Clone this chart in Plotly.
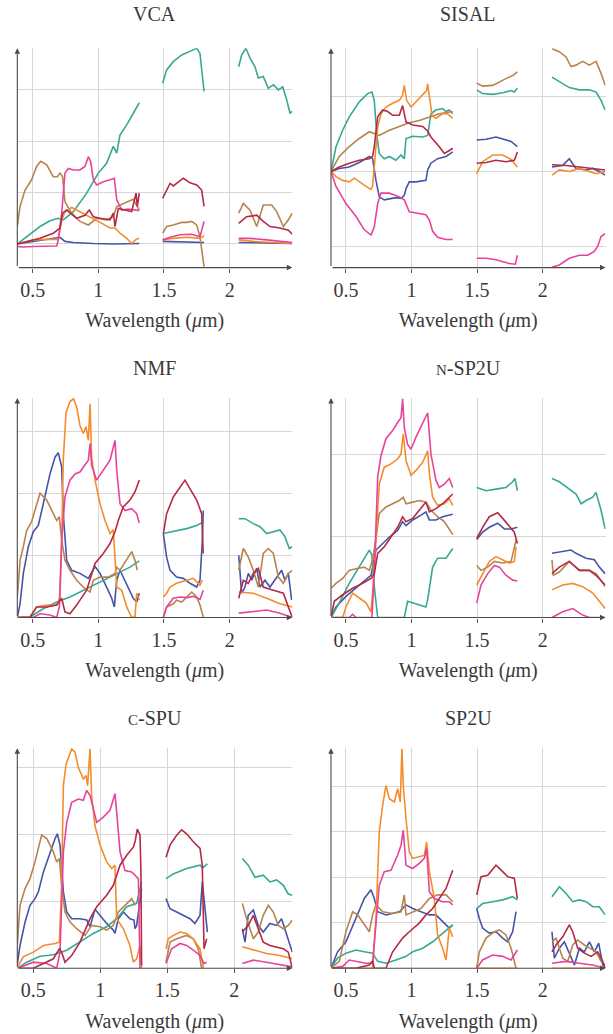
import plotly.graph_objects as go

FONT = "Liberation Serif, Times New Roman, DejaVu Serif, serif"
COLORS = {"teal": "#36A893", "orange": "#F58C2C", "pink": "#E64499", "red": "#B42A44",
          "blue": "#4654A8", "brown": "#B8834E"}

# ---------------- VCA ----------------
VCA_TEAL_WL = [0.383, 0.454, 0.556, 0.632, 0.695, 0.733, 0.810, 0.911, 0.962, 1.000, 1.063, 1.114, 1.140, 1.165, 1.216, 1.266, 1.312, None,
               1.490, 1.520, 1.571, 1.635, 1.698, 1.749, 1.774, 1.805, None,
               2.069, 2.091, 2.124, 2.155, 2.193, 2.218, 2.256, 2.294, 2.333, 2.371, 2.404, 2.434, 2.459, 2.477]
VCA_TEAL_R = [0, 0.14, 0.34, 0.45, 0.50, 0.47, 0.63, 0.99, 1.21, 1.38, 1.57, 1.90, 1.77, 2.12, 2.32, 2.55, 2.75, None,
              3.13, 3.39, 3.55, 3.68, 3.75, 3.81, 3.71, 2.97, None,
              3.45, 3.68, 3.81, 3.62, 3.45, 3.23, 3.26, 3.03, 3.10, 3.00, 3.06, 2.81, 2.55, 2.58]
VCA_BROWN_WL = [0.383, 0.404, 0.442, 0.492, 0.530, 0.561, 0.607, 0.657, 0.688, 0.708, 0.728, 0.746, 0.797, 0.860, 0.924, 0.987, 1.063, 1.114, 1.140, 1.190, 1.266, 1.312, None,
                1.490, 1.520, 1.571, 1.635, 1.673, 1.711, 1.749, 1.774, 1.805, None,
                2.069, 2.104, 2.155, 2.206, 2.256, 2.320, 2.358, 2.409, 2.447, 2.477]
VCA_BROWN_R = [0.34, 0.73, 1.05, 1.25, 1.51, 1.61, 1.54, 1.31, 1.31, 1.38, 1.31, 0.82, 0.60, 0.44, 0.37, 0.50, 0.47, 0.53, 0.73, 0.79, 0.87, 0.66, None,
               0.21, 0.34, 0.37, 0.42, 0.42, 0.44, 0.37, 0.14, -0.44, None,
               0.60, 0.79, 0.66, 0.34, 0.76, 0.76, 0.63, 0.34, 0.47, 0.60]
VCA_PINK_WL = [0.383, 0.429, 0.505, 0.607, 0.683, 0.695, 0.721, 0.746, 0.772, 0.810, 0.860, 0.898, 0.924, 0.942, 0.962, 0.987, 1.038, 1.089, 1.122, 1.140, 1.178, 1.228, 1.266, 1.312, None,
               1.490, 1.546, 1.622, 1.711, 1.774, 1.805, None,
               2.069, 2.155, 2.282, 2.383, 2.477]
VCA_PINK_R = [-0.05, -0.06, -0.05, -0.04, -0.04, 0.08, 0.60, 1.38, 1.47, 1.44, 1.44, 1.51, 1.70, 1.60, 1.25, 1.15, 1.21, 1.25, 1.28, 0.86, 0.66, 0.68, 0.66, 0.65, None,
              0.08, 0.13, 0.18, 0.19, 0.14, 0.44, None,
              0.11, 0.11, 0.08, 0.06, 0.03]
VCA_RED_WL = [0.383, 0.454, 0.556, 0.657, 0.708, 0.728, 0.759, 0.835, 0.898, 0.931, 0.962, 1.013, 1.089, 1.114, 1.127, 1.152, 1.203, 1.254, 1.287, 1.297, 1.312, None,
              1.490, 1.520, 1.546, 1.571, 1.647, 1.698, 1.749, 1.787, 1.805, None,
              2.069, 2.129, 2.206, 2.256, 2.307, 2.383, 2.447, 2.477]
VCA_RED_R = [0, 0.05, 0.11, 0.21, 0.31, 0.60, 0.66, 0.50, 0.56, 0.66, 0.53, 0.50, 0.47, 0.60, 0.34, 0.69, 0.66, 0.63, 0.99, 0.73, 0.99, None,
             0.89, 1.05, 1.18, 1.13, 1.28, 1.19, 1.15, 1.05, 0.73, None,
             0.40, 0.53, 0.56, 0.44, 0.34, 0.31, 0.27, 0.19]
VCA_ORANGE_WL = [0.383, 0.505, 0.632, 0.695, 0.721, 0.746, 0.797, 0.860, 0.962, 1.013, 1.089, 1.127, 1.165, 1.216, 1.254, 1.287, 1.312, None,
                 1.490, 1.571, 1.673, 1.774, 1.805, None,
                 2.069, 2.180, 2.333, 2.477]
VCA_ORANGE_R = [0, 0.08, 0.09, 0.09, 0.47, 0.63, 0.71, 0.63, 0.50, 0.42, 0.31, 0.31, 0.21, 0.11, 0.01, 0.09, 0.11, None,
                0.08, 0.11, 0.13, 0.11, 0.16, None,
                0.08, 0.05, 0.03, 0.01]
VCA_BLUE_WL = [0.383, 0.505, 0.632, 0.708, 0.746, 0.810, 0.962, 1.114, 1.312, None,
               1.490, 1.647, 1.805, None,
               2.069, 2.282, 2.477]
VCA_BLUE_R = [0, 0.05, 0.09, 0.13, 0.05, 0.03, 0.01, 0, 0.01, None,
              0.05, 0.04, 0.03, None,
              0.03, 0.02, 0.01]

# ---------------- SISAL ----------------
SISAL_TEAL_WL = [0.386, 0.424, 0.475, 0.525, 0.602, 0.665, 0.698, 0.716, 0.734, 0.754, 0.792, 0.831, 0.881, 0.920, 0.945, 0.958, 1.009, 1.085, 1.123, 1.148, 1.186, 1.237, 1.263, 1.288, 1.314, None,
                 1.497, 1.542, 1.619, 1.695, 1.759, 1.784, 1.807, None,
                 2.071, 2.127, 2.203, 2.280, 2.356, 2.407, 2.445, 2.476]
SISAL_TEAL_R = [0, 0.33, 0.55, 0.73, 0.93, 1.04, 1.06, 0.95, 0.51, 0.24, 0.17, 0.20, 0.15, 0.22, 0.17, 0.44, 0.47, 0.46, 0.48, 0.77, 0.82, 0.84, 0.80, 0.82, 0.77, None,
                1.09, 1.04, 1.03, 1.05, 1.08, 1.06, 1.11, None,
                1.26, 1.20, 1.12, 1.09, 1.09, 1.06, 0.95, 0.82]
SISAL_BROWN_WL = [0.386, 0.449, 0.525, 0.602, 0.678, 0.716, 0.754, 0.831, 0.907, 0.983, 1.059, 1.136, 1.212, 1.314, None,
                  1.497, 1.542, 1.619, 1.670, 1.720, 1.771, 1.807, None,
                  2.071, 2.127, 2.178, 2.216, 2.254, 2.305, 2.356, 2.407, 2.445, 2.476]
SISAL_BROWN_R = [0, 0.20, 0.33, 0.44, 0.53, 0.51, 0.48, 0.55, 0.60, 0.65, 0.68, 0.73, 0.77, 0.80, None,
                 1.18, 1.14, 1.15, 1.20, 1.24, 1.28, 1.33, None,
                 1.64, 1.60, 1.53, 1.40, 1.42, 1.47, 1.42, 1.47, 1.31, 1.15]
SISAL_ORANGE_WL = [0.386, 0.424, 0.475, 0.525, 0.564, 0.602, 0.653, 0.691, 0.703, 0.716, 0.742, 0.767, 0.805, 0.856, 0.907, 0.932, 0.945, 0.963, 0.996, 1.034, 1.085, 1.115, 1.123, 1.141, 1.156, 1.186, 1.237, 1.275, 1.314, None,
                   1.497, 1.542, 1.619, 1.695, 1.759, 1.807, None,
                   2.071, 2.127, 2.203, 2.280, 2.356, 2.407, 2.476]
SISAL_ORANGE_R = [0, -0.07, -0.12, -0.14, -0.09, -0.14, -0.20, -0.24, -0.20, 0.06, 0.60, 0.77, 0.86, 0.91, 0.95, 1.02, 1.15, 0.95, 0.86, 0.93, 1.02, 1.08, 1.17, 0.95, 0.75, 0.71, 0.77, 0.77, 0.71, None,
                  -0.03, 0.13, 0.22, 0.22, 0.16, 0.06, None,
                  -0.05, 0.02, 0, 0.04, 0, -0.03, 0]
SISAL_RED_WL = [0.386, 0.449, 0.525, 0.602, 0.678, 0.703, 0.716, 0.742, 0.780, 0.818, 0.856, 0.907, 0.932, 0.945, 0.958, 1.009, 1.085, 1.123, 1.148, 1.212, 1.250, 1.288, 1.314, None,
                1.497, 1.568, 1.644, 1.720, 1.784, 1.807, None,
                2.071, 2.178, 2.280, 2.382, 2.476]
SISAL_RED_R = [0, 0.06, 0.11, 0.15, 0.17, 0.20, 0.33, 0.73, 0.82, 0.80, 0.75, 0.75, 0.88, 0.77, 0.66, 0.62, 0.60, 0.54, 0.46, 0.33, 0.24, 0.28, 0.31, None,
               0.11, 0.12, 0.15, 0.13, 0.15, 0.26, None,
               0.09, 0.08, 0.06, 0.04, 0.02]
SISAL_BLUE_WL = [0.386, 0.449, 0.525, 0.602, 0.678, 0.703, 0.729, 0.754, 0.792, 0.831, 0.881, 0.920, 0.945, 0.958, 0.983, 1.034, 1.110, 1.123, 1.148, 1.199, 1.263, 1.314, None,
                 1.497, 1.568, 1.644, 1.695, 1.759, 1.807, None,
                 2.071, 2.153, 2.203, 2.254, 2.331, 2.382, 2.432, 2.476]
SISAL_BLUE_R = [0, 0.04, 0.06, 0.12, 0.20, 0.17, -0.12, -0.34, -0.38, -0.37, -0.35, -0.36, -0.32, -0.23, -0.14, -0.14, -0.12, 0.02, 0.11, 0.17, 0.20, 0.26, None,
                0.42, 0.43, 0.46, 0.43, 0.40, 0.33, None,
                0.06, 0.08, 0.17, 0.04, 0.02, 0.04, 0, -0.05]
SISAL_PINK_WL = [0.386, 0.424, 0.500, 0.576, 0.640, 0.691, 0.716, 0.742, 0.767, 0.831, 0.907, 0.945, 0.983, 1.059, 1.110, 1.136, 1.161, 1.199, 1.263, 1.314, None,
                 1.497, 1.568, 1.644, 1.746, 1.792, 1.807, None,
                 2.071, 2.127, 2.203, 2.280, 2.343, 2.394, 2.420, 2.445, 2.476]
SISAL_PINK_R = [0, -0.20, -0.43, -0.60, -0.78, -0.85, -0.74, -0.43, -0.29, -0.29, -0.34, -0.38, -0.54, -0.56, -0.58, -0.65, -0.80, -0.88, -0.91, -0.91, None,
                -1.16, -1.16, -1.18, -1.23, -1.24, -1.12, None,
                -1.28, -1.25, -1.16, -1.12, -1.12, -1.07, -1.00, -0.87, -0.83]

# ---------------- NMF ----------------
NMF_BLUE_WL = [0.383, 0.404, 0.429, 0.467, 0.505, 0.543, 0.581, 0.632, 0.670, 0.695, 0.721, 0.733, 0.759, 0.797, 0.860, 0.924, 0.975, 1.013, 1.063, 1.102, 1.122, 1.140, 1.165, 1.228, 1.266, 1.292, 1.312, None,
               1.495, 1.520, 1.546, 1.596, 1.647, 1.698, 1.749, 1.774, 1.792, 1.799, None,
               2.069, 2.091, 2.117, 2.142, 2.168, 2.206, 2.231, 2.269, 2.307, 2.358, 2.396, 2.421, 2.447, 2.472]
NMF_BLUE_R = [0, 0.22, 0.71, 1.14, 1.38, 1.48, 1.83, 2.31, 2.58, 2.65, 2.42, 1.67, 0.92, 0.76, 0.71, 0.63, 0.82, 0.71, 0.49, 0.31, 0.17, 0.60, 0.76, 0.49, 0.31, 0.25, 0.39, None,
              1.35, 0.97, 0.76, 0.65, 0.63, 0.55, 0.49, 0.60, 1.24, 1.72, None,
              1.00, 0.39, 0.49, 0.71, 0.60, 0.79, 0.49, 0.60, 0.49, 0.65, 0.76, 0.60, 0.71, 0.28]
NMF_BROWN_WL = [0.383, 0.404, 0.429, 0.454, 0.492, 0.530, 0.556, 0.607, 0.657, 0.683, 0.703, 0.721, 0.746, 0.784, 0.835, 0.886, 0.937, 0.962, 1.013, 1.076, 1.127, 1.140, 1.165, 1.203, 1.254, 1.279, 1.297, None,
                1.495, 1.520, 1.571, 1.596, 1.635, 1.673, 1.711, 1.749, 1.774, 1.799, None,
                2.069, 2.104, 2.142, 2.180, 2.218, 2.256, 2.294, 2.333, 2.371, 2.409, 2.447, 2.477]
NMF_BROWN_R = [0.33, 0.92, 1.14, 1.40, 1.54, 1.83, 2.00, 1.89, 1.67, 1.56, 1.62, 1.24, 0.92, 0.76, 0.60, 0.49, 0.41, 0.60, 0.65, 0.65, 0.71, 0.81, 0.76, 0.89, 1.06, 0.92, 0.76, None,
               0.01, 0.17, 0.22, 0.28, 0.25, 0.33, 0.41, 0.33, 0.20, 0.01, None,
               0.76, 1.11, 0.97, 0.76, 0.49, 1.03, 1.11, 1.03, 0.65, 0.55, 0.71, 0.76]
NMF_TEAL_WL = [0.383, 0.480, 0.581, 0.683, 0.784, 0.886, 0.987, 1.089, 1.165, 1.241, 1.312, None,
               1.495, 1.571, 1.673, 1.749, 1.805, None,
               2.069, 2.117, 2.180, 2.231, 2.282, 2.333, 2.383, 2.421, 2.454, 2.477]
NMF_TEAL_R = [0, 0.01, 0.14, 0.25, 0.33, 0.44, 0.55, 0.65, 0.73, 0.81, 0.91, None,
              1.35, 1.38, 1.43, 1.48, 1.54, None,
              1.59, 1.59, 1.51, 1.46, 1.35, 1.38, 1.41, 1.30, 1.11, 1.14]
NMF_ORANGE_WL = [0.383, 0.480, 0.530, 0.607, 0.683, 0.708, 0.721, 0.733, 0.754, 0.784, 0.810, 0.835, 0.860, 0.886, 0.906, 0.924, 0.937, 0.949, 0.975, 1.013, 1.051, 1.089, 1.114, 1.127, 1.140, 1.178, 1.216, 1.254, 1.279, 1.292, 1.312, None,
                 1.495, 1.520, 1.546, 1.596, 1.673, 1.723, 1.774, 1.792, None,
                 2.069, 2.180, 2.282, 2.383, 2.477]
NMF_ORANGE_R = [0, 0.01, 0.17, 0.20, 0.20, 0.33, 1.24, 2.53, 3.30, 3.47, 3.52, 3.39, 3.09, 2.96, 3.07, 2.85, 3.44, 2.58, 2.21, 1.83, 1.56, 1.35, 1.41, 1.03, 0.49, 0.44, 0.17, 0, 0.01, 0.39, 0.28, None,
                0.33, 0.39, 0.49, 0.55, 0.60, 0.63, 0.52, 0.60, None,
                0.41, 0.39, 0.31, 0.22, 0.17]
NMF_PINK_WL = [0.383, 0.505, 0.556, 0.632, 0.683, 0.703, 0.721, 0.746, 0.784, 0.822, 0.860, 0.898, 0.924, 0.937, 0.949, 0.987, 1.038, 1.089, 1.114, 1.127, 1.140, 1.165, 1.203, 1.254, 1.292, 1.312, None,
               1.495, 1.520, 1.571, 1.622, 1.673, 1.723, 1.774, 1.799, None,
               2.069, 2.180, 2.282, 2.383, 2.477]
NMF_PINK_R = [0, 0, 0.06, 0.04, 0, 0.17, 1.24, 1.94, 2.21, 2.31, 2.34, 2.45, 2.53, 2.80, 2.45, 2.21, 2.37, 2.53, 2.74, 2.85, 2.37, 1.83, 1.72, 1.75, 1.67, 1.52, None,
              0, 0.17, 0.31, 0.33, 0.32, 0.34, 0.29, 0.44, None,
              0.07, 0.09, 0.12, 0.07, 0]
NMF_RED_WL = [0.383, 0.480, 0.530, 0.607, 0.683, 0.721, 0.746, 0.784, 0.835, 0.911, 0.975, 1.038, 1.089, 1.127, 1.152, 1.190, 1.241, 1.279, 1.312, None,
              1.495, 1.520, 1.571, 1.622, 1.660, 1.698, 1.749, 1.787, 1.799, None,
              2.069, 2.104, 2.142, 2.180, 2.218, 2.256, 2.333, 2.409, 2.447, 2.477]
NMF_RED_R = [0, 0, 0.17, 0.17, 0.20, 0.31, 0.09, 0.06, 0.20, 0.44, 0.87, 1.03, 1.19, 1.38, 1.56, 1.78, 1.89, 2.02, 2.21, None,
             1.35, 1.67, 1.94, 2.10, 2.21, 2.07, 1.89, 1.67, 1.03, None,
             0.31, 0.60, 0.55, 0.71, 0.79, 0.49, 0.44, 0.39, 0.17, 0]

# ---------------- n-SP2U ----------------
NSP_PINK_WL = [0.386, 0.525, 0.551, 0.576, 0.698, 0.716, 0.742, 0.767, 0.805, 0.856, 0.894, 0.920, 0.932, 0.945, 0.970, 0.996, 1.034, 1.072, 1.110, 1.123, 1.148, 1.186, 1.212, 1.250, 1.288, 1.314, None,
               1.497, 1.530, 1.581, 1.631, 1.670, 1.720, 1.771, 1.807, None,
               2.071, 2.153, 2.229, 2.305, 2.356, 2.476]
NSP_PINK_R = [0, 0, 0.04, 0, 0, 0.54, 1.73, 1.99, 2.20, 2.30, 2.40, 2.46, 2.69, 2.34, 2.13, 2.07, 2.22, 2.34, 2.48, 2.52, 2.01, 1.69, 1.60, 1.64, 1.71, 1.60, None,
              0.18, 0.40, 0.54, 0.64, 0.62, 0.52, 0.46, 0.45, None,
              0, 0.07, 0.11, 0.03, 0, 0]
NSP_ORANGE_WL = [0.386, 0.475, 0.500, 0.551, 0.602, 0.653, 0.691, 0.703, 0.729, 0.754, 0.792, 0.843, 0.894, 0.920, 0.937, 0.958, 0.996, 1.034, 1.085, 1.123, 1.136, 1.161, 1.199, 1.250, 1.288, 1.314, None,
                 1.497, 1.542, 1.593, 1.644, 1.695, 1.746, 1.784, 1.797, None,
                 2.071, 2.153, 2.229, 2.305, 2.382, 2.432, 2.476]
NSP_ORANGE_R = [0, 0, 0.13, 0.30, 0.24, 0.18, 0.07, 0.30, 0.95, 1.64, 1.85, 1.89, 1.95, 2.01, 2.26, 1.93, 1.75, 1.81, 1.91, 2.05, 1.77, 1.48, 1.38, 1.40, 1.46, 1.38, None,
                0.40, 0.54, 0.69, 0.75, 0.71, 0.67, 0.69, 0.87, None,
                0.34, 0.40, 0.42, 0.38, 0.30, 0.20, 0.11]
NSP_BROWN_WL = [0.386, 0.424, 0.475, 0.525, 0.576, 0.640, 0.678, 0.703, 0.734, 0.754, 0.805, 0.856, 0.907, 0.937, 0.958, 1.009, 1.059, 1.110, 1.148, 1.199, 1.250, 1.314, None,
                1.497, 1.530, 1.581, 1.631, 1.695, 1.759, 1.797, None,
                2.071, 2.081, 2.127, 2.203, 2.280, 2.356, 2.407, 2.476]
NSP_BROWN_R = [0.36, 0.42, 0.48, 0.58, 0.60, 0.62, 0.58, 0.71, 1.03, 1.28, 1.36, 1.40, 1.44, 1.48, 1.40, 1.42, 1.44, 1.42, 1.32, 1.24, 1.18, 1.02, None,
               0.64, 0.58, 0.62, 0.69, 0.67, 0.69, 0.95, None,
               0.71, 0.52, 0.56, 0.69, 0.58, 0.58, 0.54, 0.38]
NSP_RED_WL = [0.386, 0.411, 0.475, 0.551, 0.627, 0.691, 0.716, 0.742, 0.792, 0.843, 0.894, 0.932, 0.958, 1.009, 1.059, 1.110, 1.136, 1.186, 1.237, 1.288, 1.314, None,
              1.497, 1.542, 1.593, 1.657, 1.695, 1.746, 1.784, 1.807, None,
              2.071, 2.127, 2.203, 2.280, 2.356, 2.420, 2.476]
NSP_RED_R = [0, 0.20, 0.28, 0.36, 0.42, 0.48, 0.54, 0.79, 0.87, 0.99, 1.11, 1.24, 1.18, 1.22, 1.32, 1.42, 1.30, 1.34, 1.40, 1.48, 1.52, None,
             0.97, 1.11, 1.24, 1.29, 1.22, 1.13, 1.05, 0.91, None,
             0.54, 0.62, 0.69, 0.58, 0.58, 0.50, 0.40]
NSP_BLUE_WL = [0.386, 0.424, 0.500, 0.576, 0.653, 0.691, 0.729, 0.780, 0.831, 0.894, 0.932, 0.958, 1.009, 1.072, 1.110, 1.136, 1.186, 1.237, 1.314, None,
               1.497, 1.542, 1.593, 1.657, 1.708, 1.759, 1.807, None,
               2.071, 2.153, 2.216, 2.254, 2.331, 2.394, 2.432, 2.476]
NSP_BLUE_R = [0, 0.13, 0.26, 0.36, 0.46, 0.52, 0.83, 0.91, 0.99, 1.07, 1.18, 1.13, 1.20, 1.26, 1.30, 1.20, 1.20, 1.24, 1.27, None,
              0.96, 1.05, 1.11, 1.16, 1.09, 1.09, 1.11, None,
              0.79, 0.81, 0.83, 0.79, 0.73, 0.71, 0.62, 0.54]
NSP_TEAL_WL = [0.386, 0.449, 0.525, 0.602, 0.653, 0.678, 0.698, 0.716, 0.742, 0.945, 0.970, 1.009, 1.059, 1.110, 1.123, 1.161, 1.199, 1.263, 1.314, None,
               1.497, 1.568, 1.644, 1.720, 1.771, 1.789, 1.807, None,
               2.071, 2.127, 2.203, 2.254, 2.293, 2.331, 2.382, 2.407, 2.445, 2.476]
NSP_TEAL_R = [0, 0.18, 0.42, 0.62, 0.75, 0.83, 0.77, 0.38, 0, 0, 0.20, 0.18, 0.16, 0.13, 0.22, 0.62, 0.73, 0.73, 0.85, None,
              1.60, 1.56, 1.58, 1.60, 1.67, 1.71, 1.56, None,
              1.71, 1.67, 1.58, 1.52, 1.40, 1.44, 1.48, 1.54, 1.32, 1.09]

# ---------------- c-SPU ----------------
CSPU_BLUE_WL = [0.381, 0.400, 0.438, 0.475, 0.512, 0.537, 0.575, 0.624, 0.662, 0.679, 0.699, 0.724, 0.749, 0.786, 0.848, 0.898, 0.923, 0.960, 0.998, 1.047, 1.097, 1.109, 1.134, 1.172, 1.221, 1.251, 1.259, 1.271, 1.308, None,
                1.490, 1.520, 1.570, 1.619, 1.669, 1.706, 1.744, 1.761, 1.774, 1.799, None,
                2.060, 2.080, 2.104, 2.142, 2.179, 2.216, 2.266, 2.316, 2.353, 2.378, 2.403, 2.433]
CSPU_BLUE_R = [0.07, 0.34, 0.69, 0.94, 1.04, 1.14, 1.44, 1.74, 1.94, 2.01, 1.84, 1.14, 0.84, 0.74, 0.74, 0.72, 0.62, 0.88, 0.79, 0.67, 0.57, 0.52, 0.74, 0.84, 0.74, 0.72, 0.59, 0.64, 1.19, None,
               1.04, 0.89, 0.84, 0.79, 0.74, 0.67, 0.79, 1.29, 1.04, 0.54, None,
               0.59, 0.39, 0.79, 0.87, 0.64, 0.54, 0.67, 0.64, 0.74, 0.59, 0.44, 0.24]
CSPU_BROWN_WL = [0.381, 0.400, 0.438, 0.475, 0.512, 0.562, 0.600, 0.649, 0.674, 0.694, 0.711, 0.736, 0.774, 0.823, 0.886, 0.935, 0.998, 1.047, 1.097, 1.134, 1.184, 1.234, 1.259, None,
                 1.490, 1.520, 1.570, 1.644, 1.694, 1.731, 1.756, None,
                 2.060, 2.092, 2.142, 2.179, 2.216, 2.254, 2.291, 2.328, 2.366, 2.403, 2.433]
CSPU_BROWN_R = [0.37, 0.94, 1.19, 1.34, 1.59, 1.99, 1.94, 1.74, 1.59, 1.64, 1.24, 0.84, 0.69, 0.59, 0.49, 0.64, 0.62, 0.57, 0.64, 0.84, 0.94, 1.04, 0.94, None,
                0.09, 0.39, 0.44, 0.49, 0.44, 0.29, 0, None,
                0.97, 0.74, 0.44, 0.54, 0.79, 0.94, 0.84, 0.64, 0.59, 0.64, 0.72]
CSPU_TEAL_WL = [0.381, 0.450, 0.550, 0.649, 0.749, 0.848, 0.948, 1.047, 1.122, 1.197, 1.271, 1.308, None,
                1.490, 1.545, 1.644, 1.744, 1.764, 1.799, None,
                2.060, 2.104, 2.154, 2.216, 2.266, 2.316, 2.366, 2.403, 2.433]
CSPU_TEAL_R = [0, 0.09, 0.18, 0.20, 0.27, 0.39, 0.52, 0.62, 0.74, 0.92, 0.97, 1.29, None,
               1.34, 1.41, 1.49, 1.54, 1.50, 1.56, None,
               1.64, 1.54, 1.36, 1.39, 1.29, 1.32, 1.24, 1.11, 1.09]
CSPU_ORANGE_WL = [0.381, 0.425, 0.500, 0.575, 0.662, 0.694, 0.711, 0.724, 0.744, 0.786, 0.811, 0.836, 0.873, 0.893, 0.905, 0.923, 0.935, 0.960, 0.998, 1.047, 1.085, 1.109, 1.122, 1.172, 1.221, 1.246, 1.271, 1.296, 1.308, None,
                  1.490, 1.507, 1.545, 1.595, 1.644, 1.694, 1.744, 1.769, None,
                  2.060, 2.142, 2.241, 2.341, 2.433]
CSPU_ORANGE_R = [0.02, 0.17, 0.24, 0.34, 0.37, 0.39, 1.24, 2.73, 3.05, 3.28, 3.23, 3.00, 2.83, 2.88, 2.73, 3.28, 2.58, 2.13, 1.84, 1.59, 1.49, 1.54, 0.74, 0.59, 0.34, 0.09, 0.14, 0.34, 0, None,
                 0.29, 0.44, 0.49, 0.54, 0.52, 0.44, 0.29, 0, None,
                 0.32, 0.27, 0.22, 0.19, 0.14]
CSPU_PINK_WL = [0.381, 0.500, 0.600, 0.674, 0.699, 0.724, 0.749, 0.786, 0.836, 0.873, 0.898, 0.923, 0.973, 1.022, 1.072, 1.109, 1.122, 1.147, 1.184, 1.234, 1.284, 1.296, None,
                1.490, 1.532, 1.595, 1.644, 1.694, 1.744, 1.774, 1.794, None,
                2.060, 2.142, 2.241, 2.341, 2.433]
CSPU_PINK_R = [0, 0.09, 0.07, 0, 0.24, 1.74, 2.18, 2.48, 2.53, 2.51, 2.66, 2.58, 2.18, 2.26, 2.36, 2.61, 2.33, 1.74, 1.46, 1.44, 1.34, 0, None,
               0.07, 0.29, 0.37, 0.34, 0.27, 0.19, 0.07, 0.09, None,
               0.07, 0.12, 0.09, 0.05, 0.02]
CSPU_RED_WL = [0.381, 0.500, 0.575, 0.649, 0.694, 0.711, 0.736, 0.786, 0.848, 0.923, 0.973, 1.047, 1.097, 1.147, 1.197, 1.246, 1.259, 1.276, 1.296, 1.303, 1.308, None,
               1.490, 1.520, 1.570, 1.607, 1.644, 1.694, 1.744, 1.761, 1.774, 1.794, None,
               2.060, 2.104, 2.142, 2.179, 2.216, 2.266, 2.316, 2.366, 2.403, 2.433]
CSPU_RED_R = [0, 0, 0.07, 0.14, 0.29, 0.24, 0.09, 0.19, 0.39, 0.74, 0.92, 1.09, 1.24, 1.54, 1.69, 1.81, 1.89, 2.08, 1.99, 1.44, 0.04, None,
              1.66, 1.84, 1.99, 2.07, 2.01, 1.89, 1.79, 1.54, 0.29, 0.44, None,
              0.54, 0.64, 0.79, 0.59, 0.39, 0.34, 0.32, 0.29, 0.24, 0]

# ---------------- SP2U ----------------
SP2U_ORANGE_WL = [0.386, 0.703, 0.729, 0.754, 0.780, 0.805, 0.831, 0.869, 0.894, 0.914, 0.927, 0.937, 0.958, 0.983, 1.009, 1.059, 1.098, 1.115, 1.136, 1.174, 1.199, 1.237, 1.263, 1.288, 1.314, None,
                  1.497, 1.807, None,
                  2.071, 2.476]
SP2U_ORANGE_R = [0, 0, 1.09, 2.99, 3.58, 4.01, 3.72, 3.65, 3.94, 3.65, 4.82, 4.01, 3.28, 2.55, 2.41, 2.45, 2.48, 2.77, 2.12, 1.53, 0.73, 0.44, 0.18, 0.88, 0.69, None,
                 0, 0, None,
                 0, 0]
SP2U_PINK_WL = [0.386, 0.475, 0.525, 0.576, 0.653, 0.703, 0.729, 0.754, 0.792, 0.843, 0.894, 0.920, 0.937, 0.958, 1.009, 1.059, 1.098, 1.115, 1.136, 1.174, 1.237, 1.288, 1.314, None,
                1.497, 1.542, 1.619, 1.695, 1.759, 1.807, None,
                2.071, 2.178, 2.280, 2.382, 2.476]
SP2U_PINK_R = [0, 0.04, 0.18, 0.15, 0.11, 0.11, 0.95, 1.82, 2.12, 2.15, 2.48, 2.70, 3.03, 2.26, 2.19, 2.30, 2.41, 2.63, 1.68, 1.53, 1.46, 1.46, 1.39, None,
               0, 0.18, 0.29, 0.26, 0.18, 0.40, None,
               0.11, 0.15, 0.11, 0.07, 0]
SP2U_BLUE_WL = [0.386, 0.436, 0.500, 0.576, 0.640, 0.691, 0.716, 0.742, 0.805, 0.907, 0.958, 1.009, 1.072, 1.136, 1.186, 1.237, 1.288, 1.314, None,
                1.497, 1.517, 1.542, 1.593, 1.644, 1.695, 1.733, 1.771, 1.797, None,
                2.071, 2.089, 2.127, 2.165, 2.203, 2.242, 2.280, 2.318, 2.356, 2.394, 2.427, 2.458, 2.476]
SP2U_BLUE_R = [0, 0.36, 0.58, 1.09, 1.53, 1.72, 1.53, 1.24, 1.17, 1.24, 1.39, 1.31, 1.24, 1.17, 1.17, 1.02, 0.88, 0.95, None,
               1.31, 1.09, 0.88, 0.77, 0.80, 0.66, 0.58, 0.80, 1.24, None,
               0.80, 0.22, 0.44, 0.58, 0.33, 0.07, 0.44, 0.36, 0.58, 0.36, 0.55, 0.07, 0]
SP2U_BROWN_WL = [0.386, 0.449, 0.500, 0.551, 0.589, 0.640, 0.678, 0.703, 0.729, 0.780, 0.856, 0.920, 0.945, 0.958, 1.009, 1.072, 1.136, 1.199, 1.263, 1.314, None,
                 1.497, 1.517, 1.568, 1.631, 1.670, 1.720, 1.759, 1.797, None,
                 2.071, 2.102, 2.153, 2.191, 2.229, 2.267, 2.318, 2.356, 2.407, 2.445, 2.476]
SP2U_BROWN_R = [0, 0.15, 0.80, 1.24, 1.17, 0.95, 0.80, 1.17, 1.39, 1.24, 1.20, 1.24, 1.61, 1.17, 1.24, 1.31, 1.53, 1.61, 1.61, 1.46, None,
                0, 0.36, 0.66, 0.80, 0.84, 0.73, 0.44, 0, None,
                0.58, 0.66, 0.22, 0.15, 0.51, 0.62, 0.51, 0.44, 0.36, 0.15, 0.07]
SP2U_TEAL_WL = [0.386, 0.436, 0.500, 0.576, 0.640, 0.703, 0.742, 0.805, 0.881, 0.958, 1.009, 1.085, 1.161, 1.237, 1.288, 1.314, None,
                1.497, 1.542, 1.619, 1.695, 1.771, 1.807, None,
                2.071, 2.127, 2.178, 2.229, 2.280, 2.331, 2.382, 2.432, 2.476]
SP2U_TEAL_R = [0, 0.22, 0.33, 0.40, 0.36, 0.33, 0.15, 0.11, 0.18, 0.26, 0.36, 0.44, 0.58, 0.77, 0.88, 0.95, None,
               1.31, 1.42, 1.46, 1.50, 1.57, 1.50, None,
               1.57, 1.79, 1.64, 1.46, 1.50, 1.46, 1.35, 1.35, 1.17]
SP2U_RED_WL = [0.386, 0.576, 0.678, 0.703, 0.716, 0.805, 0.856, 0.932, 0.983, 1.059, 1.110, 1.161, 1.212, 1.263, 1.314, None,
               1.497, 1.530, 1.581, 1.644, 1.695, 1.733, 1.784, 1.807, None,
               2.071, 2.102, 2.153, 2.203, 2.229, 2.267, 2.318, 2.369, 2.420, 2.458, 2.476]
SP2U_RED_R = [0, 0, 0.07, 0.16, 0, 0, 0.36, 0.66, 0.80, 0.99, 1.17, 1.31, 1.53, 1.75, 2.15, None,
              1.61, 2.01, 2.04, 2.26, 2.12, 2.01, 1.97, 1.53, None,
              0.36, 0.51, 0.69, 0.95, 0.80, 0.44, 0.33, 0.26, 0.36, 0.15, 0]

XTICKS = [0.5, 1, 1.5, 2]
XTICKTEXT = ["0.5", "1", "1.5", "2"]

PANELS = [
    dict(title="VCA", col=0, row=0, xr=[0.383, 2.477], yr=[-0.46, 3.81], grid=[0, 1, 2, 3],
         series=[("blue", VCA_BLUE_WL, VCA_BLUE_R), ("teal", VCA_TEAL_WL, VCA_TEAL_R),
                 ("brown", VCA_BROWN_WL, VCA_BROWN_R), ("orange", VCA_ORANGE_WL, VCA_ORANGE_R),
                 ("pink", VCA_PINK_WL, VCA_PINK_R), ("red", VCA_RED_WL, VCA_RED_R)]),
    dict(title="SISAL", col=1, row=0, xr=[0.386, 2.479], yr=[-1.285, 1.645], grid=[-1, 0, 1],
         series=[("blue", SISAL_BLUE_WL, SISAL_BLUE_R), ("teal", SISAL_TEAL_WL, SISAL_TEAL_R),
                 ("brown", SISAL_BROWN_WL, SISAL_BROWN_R), ("orange", SISAL_ORANGE_WL, SISAL_ORANGE_R),
                 ("pink", SISAL_PINK_WL, SISAL_PINK_R), ("red", SISAL_RED_WL, SISAL_RED_R)]),
    dict(title="NMF", col=0, row=1, xr=[0.383, 2.477], yr=[0, 3.53], grid=[1, 2, 3],
         series=[("blue", NMF_BLUE_WL, NMF_BLUE_R), ("teal", NMF_TEAL_WL, NMF_TEAL_R),
                 ("brown", NMF_BROWN_WL, NMF_BROWN_R), ("orange", NMF_ORANGE_WL, NMF_ORANGE_R),
                 ("pink", NMF_PINK_WL, NMF_PINK_R), ("red", NMF_RED_WL, NMF_RED_R)]),
    dict(title="<span style='font-size:15px'>N</span>-SP2U", col=1, row=1, xr=[0.386, 2.479], yr=[0, 2.70], grid=[1, 2],
         series=[("blue", NSP_BLUE_WL, NSP_BLUE_R), ("teal", NSP_TEAL_WL, NSP_TEAL_R),
                 ("brown", NSP_BROWN_WL, NSP_BROWN_R), ("orange", NSP_ORANGE_WL, NSP_ORANGE_R),
                 ("pink", NSP_PINK_WL, NSP_PINK_R), ("red", NSP_RED_WL, NSP_RED_R)]),
    dict(title="<span style='font-size:15px'>C</span>-SPU", col=0, row=2, xr=[0.380, 2.433], yr=[0, 3.29], grid=[1, 2, 3],
         series=[("blue", CSPU_BLUE_WL, CSPU_BLUE_R), ("teal", CSPU_TEAL_WL, CSPU_TEAL_R),
                 ("brown", CSPU_BROWN_WL, CSPU_BROWN_R), ("orange", CSPU_ORANGE_WL, CSPU_ORANGE_R),
                 ("pink", CSPU_PINK_WL, CSPU_PINK_R), ("red", CSPU_RED_WL, CSPU_RED_R)]),
    dict(title="SP2U", col=1, row=2, xr=[0.386, 2.479], yr=[0, 4.83], grid=[1, 2, 3, 4],
         series=[("blue", SP2U_BLUE_WL, SP2U_BLUE_R), ("teal", SP2U_TEAL_WL, SP2U_TEAL_R),
                 ("brown", SP2U_BROWN_WL, SP2U_BROWN_R), ("orange", SP2U_ORANGE_WL, SP2U_ORANGE_R),
                 ("pink", SP2U_PINK_WL, SP2U_PINK_R), ("red", SP2U_RED_WL, SP2U_RED_R)]),
]

W, H = 613, 1034
COL_PX = [(17.3, 292.3), (331.0, 605.5)]
ROW_PX = [(48.3, 267.6), (398.1, 617.5), (748.2, 968.2)]
TITLE_PX = [14.0, 368.3, 718.3]
TEXT_COLOR = "#3a3a3a"

fig = go.Figure()
annotations = []
layout = {}
for i, p in enumerate(PANELS):
    idx = "" if i == 0 else str(i + 1)
    xa, ya = "x" + idx, "y" + idx
    for name, wl, r in p["series"]:
        if len(wl) != len(r):
            raise ValueError(f"length mismatch in {p['title']} {name}: {len(wl)} vs {len(r)}")
        fig.add_trace(go.Scatter(x=wl, y=r, mode="lines", xaxis=xa, yaxis=ya,
                                 line=dict(color=COLORS[name], width=1.6),
                                 connectgaps=False, showlegend=False, hoverinfo="skip"))
    c0, c1 = COL_PX[p["col"]]
    r0, r1 = ROW_PX[p["row"]]
    layout["xaxis" + idx] = dict(
        domain=[c0 / W, c1 / W], range=p["xr"], anchor=ya,
        tickvals=XTICKS, ticktext=XTICKTEXT, ticks="outside", ticklen=4, tickcolor="#555555",
        showgrid=True, gridcolor="#d7d7d7", gridwidth=1, zeroline=False, showline=False,
        tickfont=dict(family=FONT, size=20, color=TEXT_COLOR),
        title=dict(text="Wavelength (<i>μ</i>m)", font=dict(family=FONT, size=20, color=TEXT_COLOR), standoff=13),
    )
    layout["yaxis" + idx] = dict(
        domain=[1 - r1 / H, 1 - r0 / H], range=p["yr"], anchor=xa,
        tickvals=p["grid"], showticklabels=False, ticks="",
        showgrid=True, gridcolor="#d7d7d7", gridwidth=1, zeroline=False, showline=False,
    )
    # axis lines with arrow heads
    annotations.append(dict(x=p["xr"][1], y=p["yr"][0], ax=p["xr"][0], ay=p["yr"][0],
                            xref=xa, yref=ya, axref=xa, ayref=ya, text="", showarrow=True,
                            arrowhead=2, arrowsize=1.0, arrowwidth=1.1, arrowcolor="#4a4a4a"))
    annotations.append(dict(x=p["xr"][0], y=p["yr"][1], ax=p["xr"][0], ay=p["yr"][0],
                            xref=xa, yref=ya, axref=xa, ayref=ya, text="", showarrow=True,
                            arrowhead=2, arrowsize=1.0, arrowwidth=1.1, arrowcolor="#4a4a4a"))
    annotations.append(dict(x=(c0 + c1) / 2 / W, y=1 - TITLE_PX[p["row"]] / H, xref="paper", yref="paper",
                            text=p["title"], showarrow=False, xanchor="center", yanchor="middle",
                            font=dict(family=FONT, size=20, color=TEXT_COLOR)))

fig.update_layout(width=W, height=H, margin=dict(l=0, r=0, t=0, b=0),
                  paper_bgcolor="white", plot_bgcolor="white",
                  annotations=annotations, **layout)
fig.write_html("out.html")
